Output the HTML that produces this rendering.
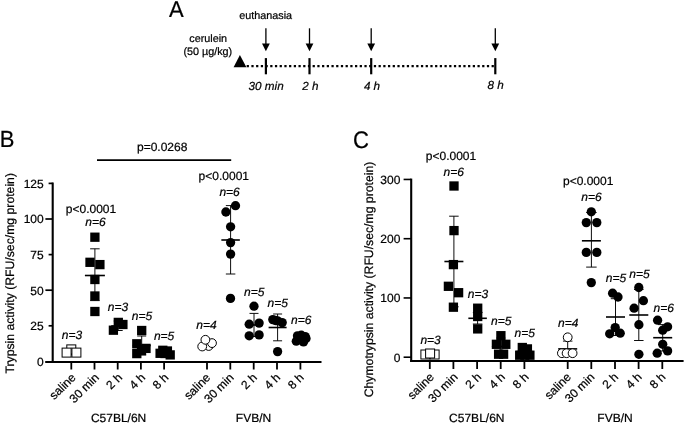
<!DOCTYPE html>
<html lang="en"><head><meta charset="utf-8"><title>Figure</title>
<style>
html,body{margin:0;padding:0;background:#fff;}
body{width:685px;height:424px;overflow:hidden;}
svg{display:block;}
svg text{font-family:"Liberation Sans", sans-serif;fill:#000;stroke:#000;stroke-width:0.22px;text-rendering:geometricPrecision;}
</style></head><body>
<svg width="685" height="424" viewBox="0 0 685 424">
<rect x="0" y="0" width="685" height="424" fill="#fff"/>
<text transform="translate(168.9 17) scale(1 1.04)" x="0" y="0" style="font-size:22px;">A</text>
<text x="239.3" y="19.4" text-anchor="start" style="font-size:10.8px;">euthanasia</text>
<text x="208.2" y="41.5" text-anchor="middle" style="font-size:10.8px;">cerulein</text>
<text x="207.8" y="54.8" text-anchor="middle" style="font-size:10.8px;">(50 µg/kg)</text>
<polygon points="233.6,67.2 239.9,55 246.4,67.2" fill="#000"/>
<line x1="246.67" y1="66.1" x2="495" y2="66.1" stroke="#000" stroke-width="2.45" stroke-dasharray="2.25 2.46"/>
<line x1="265.9" y1="58.1" x2="265.9" y2="74.3" stroke="#000" stroke-width="2.2"/>
<line x1="265.9" y1="28.3" x2="265.9" y2="45" stroke="#000" stroke-width="1.3"/>
<polygon points="262.0,43.5 269.79999999999995,43.5 265.9,51.2" fill="#000"/>
<line x1="309.5" y1="58.1" x2="309.5" y2="74.3" stroke="#000" stroke-width="2.2"/>
<line x1="309.5" y1="28.3" x2="309.5" y2="45" stroke="#000" stroke-width="1.3"/>
<polygon points="305.6,43.5 313.4,43.5 309.5,51.2" fill="#000"/>
<line x1="371.2" y1="58.1" x2="371.2" y2="74.3" stroke="#000" stroke-width="2.2"/>
<line x1="371.2" y1="28.3" x2="371.2" y2="45" stroke="#000" stroke-width="1.3"/>
<polygon points="367.3,43.5 375.09999999999997,43.5 371.2,51.2" fill="#000"/>
<line x1="495.3" y1="58.1" x2="495.3" y2="74.3" stroke="#000" stroke-width="2.2"/>
<line x1="495.3" y1="28.3" x2="495.3" y2="45" stroke="#000" stroke-width="1.3"/>
<polygon points="491.40000000000003,43.5 499.2,43.5 495.3,51.2" fill="#000"/>
<text x="266.1" y="89.5" text-anchor="middle" style="font-size:11.7px;font-style:italic;">30 min</text>
<text x="310.3" y="89.5" text-anchor="middle" style="font-size:11.7px;font-style:italic;">2 h</text>
<text x="372" y="89.8" text-anchor="middle" style="font-size:11.7px;font-style:italic;">4 h</text>
<text x="495.7" y="89.2" text-anchor="middle" style="font-size:11.7px;font-style:italic;">8 h</text>
<text transform="translate(-0.2 147.25) scale(1 1.06)" x="0" y="0" style="font-size:22px;">B</text>
<line x1="52.7" y1="182.5" x2="52.7" y2="363.0" stroke="#000" stroke-width="2.1"/>
<line x1="45.2" y1="362.0" x2="321.5" y2="362.0" stroke="#000" stroke-width="2.1"/>
<text x="43.7" y="365.7" text-anchor="end" style="font-size:12px;">0</text>
<line x1="48.6" y1="325.79999999999995" x2="52.7" y2="325.79999999999995" stroke="#000" stroke-width="1.7"/>
<text x="43.7" y="330.09999999999997" text-anchor="end" style="font-size:12px;">25</text>
<line x1="45.4" y1="290.2" x2="52.7" y2="290.2" stroke="#000" stroke-width="1.7"/>
<text x="43.7" y="294.5" text-anchor="end" style="font-size:12px;">50</text>
<line x1="48.6" y1="254.59999999999997" x2="52.7" y2="254.59999999999997" stroke="#000" stroke-width="1.7"/>
<text x="43.7" y="258.9" text-anchor="end" style="font-size:12px;">75</text>
<line x1="45.4" y1="218.99999999999997" x2="52.7" y2="218.99999999999997" stroke="#000" stroke-width="1.7"/>
<text x="43.7" y="223.29999999999998" text-anchor="end" style="font-size:12px;">100</text>
<line x1="48.6" y1="183.39999999999995" x2="52.7" y2="183.39999999999995" stroke="#000" stroke-width="1.7"/>
<text x="43.7" y="187.69999999999996" text-anchor="end" style="font-size:12px;">125</text>
<text x="13.6" y="273.3" text-anchor="middle" style="font-size:12.22px;" transform="rotate(-90 13.6 273.3)">Trypsin activity (RFU/sec/mg protein)</text>
<line x1="71.3" y1="362.0" x2="71.3" y2="369.5" stroke="#000" stroke-width="1.8"/>
<text x="76.5" y="378.2" text-anchor="end" style="font-size:12px;" transform="rotate(-45 76.5 378.2)">saline</text>
<line x1="94.5" y1="362.0" x2="94.5" y2="369.5" stroke="#000" stroke-width="1.8"/>
<text x="99.7" y="378.2" text-anchor="end" style="font-size:12px;" transform="rotate(-45 99.7 378.2)">30 min</text>
<line x1="117.7" y1="362.0" x2="117.7" y2="369.5" stroke="#000" stroke-width="1.8"/>
<text x="122.9" y="378.2" text-anchor="end" style="font-size:12px;" transform="rotate(-45 122.9 378.2)">2 h</text>
<line x1="140.9" y1="362.0" x2="140.9" y2="369.5" stroke="#000" stroke-width="1.8"/>
<text x="146.1" y="378.2" text-anchor="end" style="font-size:12px;" transform="rotate(-45 146.1 378.2)">4 h</text>
<line x1="164.1" y1="362.0" x2="164.1" y2="369.5" stroke="#000" stroke-width="1.8"/>
<text x="169.29999999999998" y="378.2" text-anchor="end" style="font-size:12px;" transform="rotate(-45 169.29999999999998 378.2)">8 h</text>
<line x1="207.0" y1="362.0" x2="207.0" y2="369.5" stroke="#000" stroke-width="1.8"/>
<text x="211.1" y="378.2" text-anchor="end" style="font-size:12px;" transform="rotate(-45 211.1 378.2)">saline</text>
<line x1="230.3" y1="362.0" x2="230.3" y2="369.5" stroke="#000" stroke-width="1.8"/>
<text x="234.4" y="378.2" text-anchor="end" style="font-size:12px;" transform="rotate(-45 234.4 378.2)">30 min</text>
<line x1="253.7" y1="362.0" x2="253.7" y2="369.5" stroke="#000" stroke-width="1.8"/>
<text x="257.79999999999995" y="378.2" text-anchor="end" style="font-size:12px;" transform="rotate(-45 257.79999999999995 378.2)">2 h</text>
<line x1="277.0" y1="362.0" x2="277.0" y2="369.5" stroke="#000" stroke-width="1.8"/>
<text x="281.09999999999997" y="378.2" text-anchor="end" style="font-size:12px;" transform="rotate(-45 281.09999999999997 378.2)">4 h</text>
<line x1="300.4" y1="362.0" x2="300.4" y2="369.5" stroke="#000" stroke-width="1.8"/>
<text x="304.49999999999994" y="378.2" text-anchor="end" style="font-size:12px;" transform="rotate(-45 304.49999999999994 378.2)">8 h</text>
<text x="118.6" y="422" text-anchor="middle" style="font-size:12px;">C57BL/6N</text>
<text x="253.5" y="422" text-anchor="middle" style="font-size:12px;">FVB/N</text>
<line x1="97" y1="160.2" x2="231.2" y2="160.2" stroke="#000" stroke-width="1.7"/>
<text x="162.2" y="151.4" text-anchor="middle" style="font-size:12px;">p=0.0268</text>
<text x="91" y="212.8" text-anchor="middle" style="font-size:12px;">p&lt;0.0001</text>
<text x="95.5" y="226" text-anchor="middle" style="font-size:12px;font-style:italic;">n=6</text>
<text x="223.8" y="180" text-anchor="middle" style="font-size:12px;">p&lt;0.0001</text>
<text x="229.6" y="196" text-anchor="middle" style="font-size:12px;font-style:italic;">n=6</text>
<text x="72" y="339" text-anchor="middle" style="font-size:12px;font-style:italic;">n=3</text>
<text x="118" y="311" text-anchor="middle" style="font-size:12px;font-style:italic;">n=3</text>
<text x="142" y="319.5" text-anchor="middle" style="font-size:12px;font-style:italic;">n=5</text>
<text x="164.1" y="340" text-anchor="middle" style="font-size:12px;font-style:italic;">n=5</text>
<text x="206.5" y="329" text-anchor="middle" style="font-size:12px;font-style:italic;">n=4</text>
<text x="254.3" y="296" text-anchor="middle" style="font-size:12px;font-style:italic;">n=5</text>
<text x="277.8" y="307" text-anchor="middle" style="font-size:12px;font-style:italic;">n=5</text>
<text x="301.3" y="324" text-anchor="middle" style="font-size:12px;font-style:italic;">n=6</text>
<line x1="72" y1="347.5" x2="72" y2="354.5" stroke="#000" stroke-width="0.95"/>
<line x1="68.0" y1="347.5" x2="76.0" y2="347.5" stroke="#000" stroke-width="0.95"/>
<line x1="68.0" y1="354.5" x2="76.0" y2="354.5" stroke="#000" stroke-width="0.95"/>
<line x1="65.0" y1="351" x2="79.0" y2="351" stroke="#000" stroke-width="1.6"/>
<rect x="66.80" y="344.90" width="9" height="9" fill="#fff" stroke="#000" stroke-width="1"/>
<rect x="62.10" y="348.10" width="9" height="9" fill="#fff" stroke="#000" stroke-width="1"/>
<rect x="71.90" y="348.10" width="9" height="9" fill="#fff" stroke="#000" stroke-width="1"/>
<line x1="94.9" y1="248.8" x2="94.9" y2="300.6" stroke="#000" stroke-width="0.95"/>
<line x1="90.15" y1="248.8" x2="99.65" y2="248.8" stroke="#000" stroke-width="0.95"/>
<line x1="90.15" y1="300.6" x2="99.65" y2="300.6" stroke="#000" stroke-width="0.95"/>
<line x1="84.9" y1="275.5" x2="104.9" y2="275.5" stroke="#000" stroke-width="1.6"/>
<rect x="90.25" y="232.55" width="9.3" height="9.3" fill="#000"/>
<rect x="85.35" y="257.65" width="9.3" height="9.3" fill="#000"/>
<rect x="95.25" y="259.95" width="9.3" height="9.3" fill="#000"/>
<rect x="90.25" y="274.85" width="9.3" height="9.3" fill="#000"/>
<rect x="90.25" y="291.35" width="9.3" height="9.3" fill="#000"/>
<rect x="90.25" y="306.85" width="9.3" height="9.3" fill="#000"/>
<line x1="118.2" y1="321" x2="118.2" y2="330.5" stroke="#000" stroke-width="0.95"/>
<line x1="113.7" y1="321" x2="122.7" y2="321" stroke="#000" stroke-width="0.95"/>
<line x1="113.7" y1="330.5" x2="122.7" y2="330.5" stroke="#000" stroke-width="0.95"/>
<line x1="111.2" y1="326" x2="125.2" y2="326" stroke="#000" stroke-width="1.6"/>
<rect x="108.75" y="325.55" width="9.3" height="9.3" fill="#000"/>
<rect x="113.65" y="317.75" width="9.3" height="9.3" fill="#000"/>
<rect x="118.25" y="319.85" width="9.3" height="9.3" fill="#000"/>
<line x1="141.7" y1="336" x2="141.7" y2="355" stroke="#000" stroke-width="0.95"/>
<line x1="137.2" y1="336" x2="146.2" y2="336" stroke="#000" stroke-width="0.95"/>
<line x1="137.2" y1="355" x2="146.2" y2="355" stroke="#000" stroke-width="0.95"/>
<line x1="132.7" y1="345.5" x2="150.7" y2="345.5" stroke="#000" stroke-width="1.6"/>
<rect x="137.05" y="325.85" width="9.3" height="9.3" fill="#000"/>
<rect x="132.15" y="339.15" width="9.3" height="9.3" fill="#000"/>
<rect x="141.35" y="343.75" width="9.3" height="9.3" fill="#000"/>
<rect x="132.15" y="348.95" width="9.3" height="9.3" fill="#000"/>
<rect x="136.85" y="345.85" width="9.3" height="9.3" fill="#000"/>
<line x1="165" y1="350" x2="165" y2="355" stroke="#000" stroke-width="0.95"/>
<line x1="161.0" y1="350" x2="169.0" y2="350" stroke="#000" stroke-width="0.95"/>
<line x1="161.0" y1="355" x2="169.0" y2="355" stroke="#000" stroke-width="0.95"/>
<line x1="158.0" y1="352.5" x2="172.0" y2="352.5" stroke="#000" stroke-width="1.6"/>
<rect x="155.45" y="348.65" width="9.3" height="9.3" fill="#000"/>
<rect x="158.15" y="345.65" width="9.3" height="9.3" fill="#000"/>
<rect x="162.75" y="346.35" width="9.3" height="9.3" fill="#000"/>
<rect x="165.55" y="350.25" width="9.3" height="9.3" fill="#000"/>
<rect x="160.35" y="348.85" width="9.3" height="9.3" fill="#000"/>
<line x1="207" y1="340.5" x2="207" y2="346.5" stroke="#000" stroke-width="0.95"/>
<line x1="203.0" y1="340.5" x2="211.0" y2="340.5" stroke="#000" stroke-width="0.95"/>
<line x1="203.0" y1="346.5" x2="211.0" y2="346.5" stroke="#000" stroke-width="0.95"/>
<line x1="200.0" y1="343.5" x2="214.0" y2="343.5" stroke="#000" stroke-width="1.6"/>
<circle cx="208.7" cy="346" r="4.4" fill="#fff" stroke="#000" stroke-width="1"/>
<circle cx="202.2" cy="346.5" r="4.4" fill="#fff" stroke="#000" stroke-width="1"/>
<circle cx="212" cy="343.1" r="4.4" fill="#fff" stroke="#000" stroke-width="1"/>
<circle cx="205.4" cy="339.8" r="4.4" fill="#fff" stroke="#000" stroke-width="1"/>
<line x1="230.6" y1="205.6" x2="230.6" y2="274" stroke="#000" stroke-width="0.95"/>
<line x1="225.85" y1="205.6" x2="235.35" y2="205.6" stroke="#000" stroke-width="0.95"/>
<line x1="225.85" y1="274" x2="235.35" y2="274" stroke="#000" stroke-width="0.95"/>
<line x1="221.35" y1="240" x2="239.85" y2="240" stroke="#000" stroke-width="1.6"/>
<circle cx="235.5" cy="205.7" r="4.65" fill="#000"/>
<circle cx="225.9" cy="212" r="4.65" fill="#000"/>
<circle cx="230.6" cy="226.8" r="4.65" fill="#000"/>
<circle cx="230.6" cy="242.6" r="4.65" fill="#000"/>
<circle cx="230.6" cy="254.1" r="4.65" fill="#000"/>
<circle cx="230.5" cy="298.4" r="4.65" fill="#000"/>
<line x1="254" y1="313.4" x2="254" y2="336.5" stroke="#000" stroke-width="0.95"/>
<line x1="249.5" y1="313.4" x2="258.5" y2="313.4" stroke="#000" stroke-width="0.95"/>
<line x1="249.5" y1="336.5" x2="258.5" y2="336.5" stroke="#000" stroke-width="0.95"/>
<line x1="245.0" y1="325" x2="263.0" y2="325" stroke="#000" stroke-width="1.6"/>
<circle cx="254" cy="306.2" r="4.65" fill="#000"/>
<circle cx="249.2" cy="324.2" r="4.65" fill="#000"/>
<circle cx="259.1" cy="323.1" r="4.65" fill="#000"/>
<circle cx="249.2" cy="335.8" r="4.65" fill="#000"/>
<circle cx="259.1" cy="334.9" r="4.65" fill="#000"/>
<line x1="277.6" y1="314" x2="277.6" y2="340.8" stroke="#000" stroke-width="0.95"/>
<line x1="273.1" y1="314" x2="282.1" y2="314" stroke="#000" stroke-width="0.95"/>
<line x1="273.1" y1="340.8" x2="282.1" y2="340.8" stroke="#000" stroke-width="0.95"/>
<line x1="268.6" y1="327.5" x2="286.6" y2="327.5" stroke="#000" stroke-width="1.6"/>
<circle cx="272.8" cy="319.6" r="4.65" fill="#000"/>
<circle cx="277.5" cy="320.8" r="4.65" fill="#000"/>
<circle cx="282.2" cy="322.6" r="4.65" fill="#000"/>
<circle cx="275.5" cy="320.5" r="4.65" fill="#000"/>
<circle cx="277.6" cy="351.6" r="4.65" fill="#000"/>
<line x1="301.1" y1="335" x2="301.1" y2="342" stroke="#000" stroke-width="0.95"/>
<line x1="297.1" y1="335" x2="305.1" y2="335" stroke="#000" stroke-width="0.95"/>
<line x1="297.1" y1="342" x2="305.1" y2="342" stroke="#000" stroke-width="0.95"/>
<line x1="293.1" y1="338.5" x2="309.1" y2="338.5" stroke="#000" stroke-width="1.6"/>
<circle cx="297.5" cy="335.8" r="4.65" fill="#000"/>
<circle cx="301.3" cy="335.2" r="4.65" fill="#000"/>
<circle cx="305.2" cy="336.6" r="4.65" fill="#000"/>
<circle cx="296.3" cy="341.2" r="4.65" fill="#000"/>
<circle cx="303.5" cy="341.9" r="4.65" fill="#000"/>
<circle cx="306" cy="338.5" r="4.65" fill="#000"/>
<text transform="translate(352.9 147.55) scale(1 1.09)" x="0" y="0" style="font-size:22px;">C</text>
<line x1="411.2" y1="178.6" x2="411.2" y2="362.0" stroke="#000" stroke-width="2.1"/>
<line x1="410.2" y1="361.0" x2="683.6" y2="361.0" stroke="#000" stroke-width="2.1"/>
<line x1="403.59999999999997" y1="357.2" x2="411.2" y2="357.2" stroke="#000" stroke-width="1.6"/>
<text x="400.4" y="361.7" text-anchor="end" style="font-size:12px;">0</text>
<line x1="403.59999999999997" y1="297.95" x2="411.2" y2="297.95" stroke="#000" stroke-width="1.6"/>
<text x="400.4" y="302.45" text-anchor="end" style="font-size:12px;">100</text>
<line x1="403.59999999999997" y1="238.7" x2="411.2" y2="238.7" stroke="#000" stroke-width="1.6"/>
<text x="400.4" y="243.2" text-anchor="end" style="font-size:12px;">200</text>
<line x1="403.59999999999997" y1="179.45" x2="411.2" y2="179.45" stroke="#000" stroke-width="1.6"/>
<text x="400.4" y="183.95" text-anchor="end" style="font-size:12px;">300</text>
<text x="372.5" y="279.5" text-anchor="middle" style="font-size:12.23px;" transform="rotate(-90 372.5 279.5)">Chymotrypsin activity (RFU/sec/mg protein)</text>
<line x1="429.8" y1="361.0" x2="429.8" y2="369.0" stroke="#000" stroke-width="1.8"/>
<text x="434.8" y="377.8" text-anchor="end" style="font-size:12px;" transform="rotate(-45 434.8 377.8)">saline</text>
<line x1="453.4" y1="361.0" x2="453.4" y2="369.0" stroke="#000" stroke-width="1.8"/>
<text x="458.4" y="377.8" text-anchor="end" style="font-size:12px;" transform="rotate(-45 458.4 377.8)">30 min</text>
<line x1="477.1" y1="361.0" x2="477.1" y2="369.0" stroke="#000" stroke-width="1.8"/>
<text x="482.1" y="377.8" text-anchor="end" style="font-size:12px;" transform="rotate(-45 482.1 377.8)">2 h</text>
<line x1="500.7" y1="361.0" x2="500.7" y2="369.0" stroke="#000" stroke-width="1.8"/>
<text x="505.7" y="377.8" text-anchor="end" style="font-size:12px;" transform="rotate(-45 505.7 377.8)">4 h</text>
<line x1="524.4" y1="361.0" x2="524.4" y2="369.0" stroke="#000" stroke-width="1.8"/>
<text x="529.4" y="377.8" text-anchor="end" style="font-size:12px;" transform="rotate(-45 529.4 377.8)">8 h</text>
<line x1="567.7" y1="361.0" x2="567.7" y2="369.0" stroke="#000" stroke-width="1.8"/>
<text x="571.7" y="377.8" text-anchor="end" style="font-size:12px;" transform="rotate(-45 571.7 377.8)">saline</text>
<line x1="591.3" y1="361.0" x2="591.3" y2="369.0" stroke="#000" stroke-width="1.8"/>
<text x="595.3" y="377.8" text-anchor="end" style="font-size:12px;" transform="rotate(-45 595.3 377.8)">30 min</text>
<line x1="615.0" y1="361.0" x2="615.0" y2="369.0" stroke="#000" stroke-width="1.8"/>
<text x="619.0" y="377.8" text-anchor="end" style="font-size:12px;" transform="rotate(-45 619.0 377.8)">2 h</text>
<line x1="638.6" y1="361.0" x2="638.6" y2="369.0" stroke="#000" stroke-width="1.8"/>
<text x="642.6" y="377.8" text-anchor="end" style="font-size:12px;" transform="rotate(-45 642.6 377.8)">4 h</text>
<line x1="662.3" y1="361.0" x2="662.3" y2="369.0" stroke="#000" stroke-width="1.8"/>
<text x="666.3" y="377.8" text-anchor="end" style="font-size:12px;" transform="rotate(-45 666.3 377.8)">8 h</text>
<text x="476.8" y="422" text-anchor="middle" style="font-size:12px;">C57BL/6N</text>
<text x="615" y="422" text-anchor="middle" style="font-size:12px;">FVB/N</text>
<text x="451" y="160" text-anchor="middle" style="font-size:12px;">p&lt;0.0001</text>
<text x="453.8" y="176" text-anchor="middle" style="font-size:12px;font-style:italic;">n=6</text>
<text x="588.2" y="184.8" text-anchor="middle" style="font-size:12px;">p&lt;0.0001</text>
<text x="591.5" y="201.3" text-anchor="middle" style="font-size:12px;font-style:italic;">n=6</text>
<text x="430.6" y="344" text-anchor="middle" style="font-size:12px;font-style:italic;">n=3</text>
<text x="477.9" y="297.6" text-anchor="middle" style="font-size:12px;font-style:italic;">n=3</text>
<text x="501.2" y="325" text-anchor="middle" style="font-size:12px;font-style:italic;">n=5</text>
<text x="524.7" y="337" text-anchor="middle" style="font-size:12px;font-style:italic;">n=5</text>
<text x="568.3" y="326.6" text-anchor="middle" style="font-size:12px;font-style:italic;">n=4</text>
<text x="616" y="282.3" text-anchor="middle" style="font-size:12px;font-style:italic;">n=5</text>
<text x="639.5" y="277.5" text-anchor="middle" style="font-size:12px;font-style:italic;">n=5</text>
<text x="663.7" y="311.5" text-anchor="middle" style="font-size:12px;font-style:italic;">n=6</text>
<rect x="420.90" y="350.00" width="9" height="9" fill="#fff" stroke="#000" stroke-width="1"/>
<rect x="430.10" y="350.00" width="9" height="9" fill="#fff" stroke="#000" stroke-width="1"/>
<rect x="425.60" y="349.00" width="9" height="9" fill="#fff" stroke="#000" stroke-width="1"/>
<line x1="453.9" y1="216.2" x2="453.9" y2="306.8" stroke="#000" stroke-width="0.95"/>
<line x1="449.15" y1="216.2" x2="458.65" y2="216.2" stroke="#000" stroke-width="0.95"/>
<line x1="449.15" y1="306.8" x2="458.65" y2="306.8" stroke="#000" stroke-width="0.95"/>
<line x1="444.4" y1="261.5" x2="463.4" y2="261.5" stroke="#000" stroke-width="1.6"/>
<rect x="449.35" y="181.35" width="9.3" height="9.3" fill="#000"/>
<rect x="449.35" y="225.95" width="9.3" height="9.3" fill="#000"/>
<rect x="448.75" y="259.95" width="9.3" height="9.3" fill="#000"/>
<rect x="443.75" y="281.65" width="9.3" height="9.3" fill="#000"/>
<rect x="453.95" y="288.05" width="9.3" height="9.3" fill="#000"/>
<rect x="448.75" y="302.55" width="9.3" height="9.3" fill="#000"/>
<line x1="477.6" y1="312.6" x2="477.6" y2="324" stroke="#000" stroke-width="0.95"/>
<line x1="472.85" y1="312.6" x2="482.35" y2="312.6" stroke="#000" stroke-width="0.95"/>
<line x1="472.85" y1="324" x2="482.35" y2="324" stroke="#000" stroke-width="0.95"/>
<line x1="468.35" y1="318.3" x2="486.85" y2="318.3" stroke="#000" stroke-width="1.6"/>
<rect x="473.05" y="303.55" width="9.3" height="9.3" fill="#000"/>
<rect x="473.05" y="311.85" width="9.3" height="9.3" fill="#000"/>
<rect x="473.05" y="324.25" width="9.3" height="9.3" fill="#000"/>
<line x1="500.9" y1="338" x2="500.9" y2="355" stroke="#000" stroke-width="0.95"/>
<line x1="496.4" y1="338" x2="505.4" y2="338" stroke="#000" stroke-width="0.95"/>
<line x1="496.4" y1="355" x2="505.4" y2="355" stroke="#000" stroke-width="0.95"/>
<line x1="491.9" y1="346.5" x2="509.9" y2="346.5" stroke="#000" stroke-width="1.6"/>
<rect x="496.25" y="331.05" width="9.3" height="9.3" fill="#000"/>
<rect x="491.75" y="339.65" width="9.3" height="9.3" fill="#000"/>
<rect x="501.15" y="339.65" width="9.3" height="9.3" fill="#000"/>
<rect x="493.95" y="349.55" width="9.3" height="9.3" fill="#000"/>
<rect x="498.95" y="349.55" width="9.3" height="9.3" fill="#000"/>
<line x1="524.4" y1="347.5" x2="524.4" y2="355.5" stroke="#000" stroke-width="0.95"/>
<line x1="519.9" y1="347.5" x2="528.9" y2="347.5" stroke="#000" stroke-width="0.95"/>
<line x1="519.9" y1="355.5" x2="528.9" y2="355.5" stroke="#000" stroke-width="0.95"/>
<line x1="516.4" y1="351.5" x2="532.4" y2="351.5" stroke="#000" stroke-width="1.6"/>
<rect x="517.65" y="342.85" width="9.3" height="9.3" fill="#000"/>
<rect x="522.75" y="344.25" width="9.3" height="9.3" fill="#000"/>
<rect x="515.05" y="350.55" width="9.3" height="9.3" fill="#000"/>
<rect x="520.15" y="350.55" width="9.3" height="9.3" fill="#000"/>
<rect x="525.25" y="350.55" width="9.3" height="9.3" fill="#000"/>
<line x1="567.7" y1="341.1" x2="567.7" y2="356.5" stroke="#000" stroke-width="0.95"/>
<line x1="562.95" y1="341.1" x2="572.45" y2="341.1" stroke="#000" stroke-width="0.95"/>
<line x1="562.95" y1="356.5" x2="572.45" y2="356.5" stroke="#000" stroke-width="0.95"/>
<line x1="558.2" y1="348.9" x2="577.2" y2="348.9" stroke="#000" stroke-width="1.6"/>
<circle cx="561.9" cy="353.2" r="4.4" fill="#fff" stroke="#000" stroke-width="1"/>
<circle cx="566.6" cy="353.2" r="4.4" fill="#fff" stroke="#000" stroke-width="1"/>
<circle cx="572.6" cy="353.2" r="4.4" fill="#fff" stroke="#000" stroke-width="1"/>
<circle cx="567.7" cy="337.3" r="4.4" fill="#fff" stroke="#000" stroke-width="1"/>
<line x1="591.4" y1="212.5" x2="591.4" y2="267.1" stroke="#000" stroke-width="0.95"/>
<line x1="586.15" y1="212.5" x2="596.65" y2="212.5" stroke="#000" stroke-width="0.95"/>
<line x1="586.15" y1="267.1" x2="596.65" y2="267.1" stroke="#000" stroke-width="0.95"/>
<line x1="581.9" y1="240.8" x2="600.9" y2="240.8" stroke="#000" stroke-width="1.6"/>
<circle cx="591.3" cy="211.8" r="4.65" fill="#000"/>
<circle cx="586.3" cy="222.6" r="4.65" fill="#000"/>
<circle cx="596.8" cy="222.6" r="4.65" fill="#000"/>
<circle cx="586.3" cy="252.4" r="4.65" fill="#000"/>
<circle cx="596.8" cy="252.4" r="4.65" fill="#000"/>
<circle cx="591.3" cy="282.6" r="4.65" fill="#000"/>
<line x1="615.5" y1="298.7" x2="615.5" y2="335.5" stroke="#000" stroke-width="0.95"/>
<line x1="610.75" y1="298.7" x2="620.25" y2="298.7" stroke="#000" stroke-width="0.95"/>
<line x1="610.75" y1="335.5" x2="620.25" y2="335.5" stroke="#000" stroke-width="0.95"/>
<line x1="606.0" y1="317" x2="625.0" y2="317" stroke="#000" stroke-width="1.6"/>
<circle cx="612.6" cy="293.2" r="4.65" fill="#000"/>
<circle cx="618" cy="297" r="4.65" fill="#000"/>
<circle cx="609.7" cy="333.8" r="4.65" fill="#000"/>
<circle cx="615.2" cy="327.6" r="4.65" fill="#000"/>
<circle cx="620.2" cy="333.2" r="4.65" fill="#000"/>
<line x1="638.8" y1="289.5" x2="638.8" y2="340.5" stroke="#000" stroke-width="0.95"/>
<line x1="634.05" y1="289.5" x2="643.55" y2="289.5" stroke="#000" stroke-width="0.95"/>
<line x1="634.05" y1="340.5" x2="643.55" y2="340.5" stroke="#000" stroke-width="0.95"/>
<line x1="629.3" y1="315" x2="648.3" y2="315" stroke="#000" stroke-width="1.6"/>
<circle cx="638.8" cy="287.5" r="4.65" fill="#000"/>
<circle cx="643.4" cy="300.7" r="4.65" fill="#000"/>
<circle cx="634.1" cy="308.2" r="4.65" fill="#000"/>
<circle cx="638.9" cy="324.7" r="4.65" fill="#000"/>
<circle cx="638.9" cy="354.3" r="4.65" fill="#000"/>
<line x1="662.7" y1="324.6" x2="662.7" y2="351" stroke="#000" stroke-width="0.95"/>
<line x1="657.95" y1="324.6" x2="667.45" y2="324.6" stroke="#000" stroke-width="0.95"/>
<line x1="657.95" y1="351" x2="667.45" y2="351" stroke="#000" stroke-width="0.95"/>
<line x1="653.2" y1="337.7" x2="672.2" y2="337.7" stroke="#000" stroke-width="1.6"/>
<circle cx="657.6" cy="320.2" r="4.65" fill="#000"/>
<circle cx="667.6" cy="326.8" r="4.65" fill="#000"/>
<circle cx="662.7" cy="330.2" r="4.65" fill="#000"/>
<circle cx="662.7" cy="344.3" r="4.65" fill="#000"/>
<circle cx="667.6" cy="350.9" r="4.65" fill="#000"/>
<circle cx="657.2" cy="353.2" r="4.65" fill="#000"/>
</svg>
</body></html>
